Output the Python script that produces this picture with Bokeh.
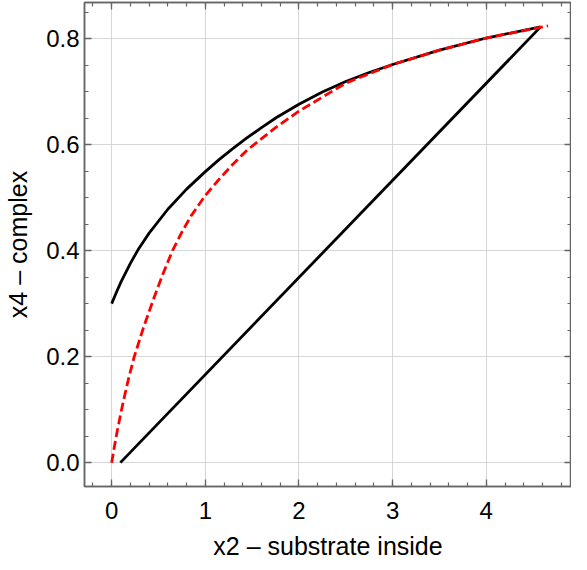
from bokeh.plotting import figure
from bokeh.models import Range1d, LinearAxis, SingleIntervalTicker, PrintfTickFormatter, CustomJSTickFormatter
from bokeh.embed import file_html
from bokeh.resources import INLINE

# ---- data ----
upper_x = [0.0, 0.05, 0.1, 0.2, 0.28, 0.4, 0.6, 0.8, 1.0, 1.15, 1.29, 1.44, 1.6, 1.76,
           2.0, 2.25, 2.5, 2.75, 3.0, 3.5, 4.0, 4.58]
upper_y = [0.300, 0.321, 0.341, 0.376, 0.401, 0.433, 0.478, 0.516, 0.549, 0.572, 0.592,
           0.612, 0.632, 0.651, 0.676, 0.699, 0.719, 0.736, 0.751, 0.778, 0.801, 0.822]

red_x = [0.0, 0.03, 0.06, 0.10, 0.13, 0.18, 0.24, 0.34, 0.45, 0.55, 0.65, 0.75, 0.85,
         1.0, 1.15, 1.3, 1.45, 1.75, 2.0, 2.5, 3.0, 3.5, 4.0, 4.66]
red_y = [0.0, 0.031, 0.060, 0.095, 0.120, 0.158, 0.199, 0.255, 0.310, 0.357, 0.400,
         0.435, 0.466, 0.504, 0.535, 0.564, 0.590, 0.632, 0.663, 0.716, 0.751, 0.778,
         0.801, 0.824]

diag_x = [0.093, 4.58]
diag_y = [0.0, 0.822]

x_label = "x2 \u2013 substrate inside"
y_label = "x4 \u2013 complex"

FONT = "Liberation Sans"
AXIS_COLOR = "#666666"

p = figure(width=571, height=562, output_backend="svg", toolbar_location=None,
           x_range=Range1d(-0.29, 4.91), y_range=Range1d(-0.045, 0.868),
           min_border_left=84, min_border_right=0, min_border_top=2, min_border_bottom=0,
           x_axis_label=x_label, y_axis_label=y_label)

bottom = p.below[0]
left = p.left[0]

bottom.ticker = SingleIntervalTicker(interval=1, num_minor_ticks=5)
left.ticker = SingleIntervalTicker(interval=0.2, num_minor_ticks=4)
left.formatter = PrintfTickFormatter(format="%.1f")

top = LinearAxis(ticker=SingleIntervalTicker(interval=1, num_minor_ticks=5),
                 formatter=CustomJSTickFormatter(code="return ''"), major_label_standoff=0)
right = LinearAxis(ticker=SingleIntervalTicker(interval=0.2, num_minor_ticks=4),
                   formatter=CustomJSTickFormatter(code="return ''"), major_label_standoff=0)
p.add_layout(top, "above")
p.add_layout(right, "right")

for ax in [bottom, left, top, right]:
    ax.axis_line_color = AXIS_COLOR
    ax.axis_line_width = 1.5
    ax.major_tick_line_color = AXIS_COLOR
    ax.minor_tick_line_color = AXIS_COLOR
    ax.major_tick_line_width = 1.3
    ax.minor_tick_line_width = 1.2
    ax.major_tick_in = 7
    ax.major_tick_out = 0
    ax.minor_tick_in = 4
    ax.minor_tick_out = 0
    ax.major_label_text_font = FONT
    ax.major_label_text_font_size = "24px"
    ax.major_label_text_color = "black"
    ax.axis_label_text_font = FONT
    ax.axis_label_text_font_size = "25px"
    ax.axis_label_text_font_style = "normal"
    ax.axis_label_text_color = "black"

bottom.major_label_standoff = 15
bottom.axis_label_standoff = 10
left.major_label_standoff = 5
left.axis_label_standoff = 11

p.outline_line_color = AXIS_COLOR
p.outline_line_width = 1.5
p.xgrid.grid_line_color = "#d6d6d6"
p.ygrid.grid_line_color = "#d6d6d6"
p.xgrid.grid_line_width = 1
p.ygrid.grid_line_width = 1

p.line(upper_x, upper_y, line_color="black", line_width=2.8)
p.line(diag_x, diag_y, line_color="black", line_width=2.8)
p.line(red_x, red_y, line_color="#ff0000", line_width=2.8, line_dash="9 4")

open("out.html", "w").write(file_html(p, INLINE))
